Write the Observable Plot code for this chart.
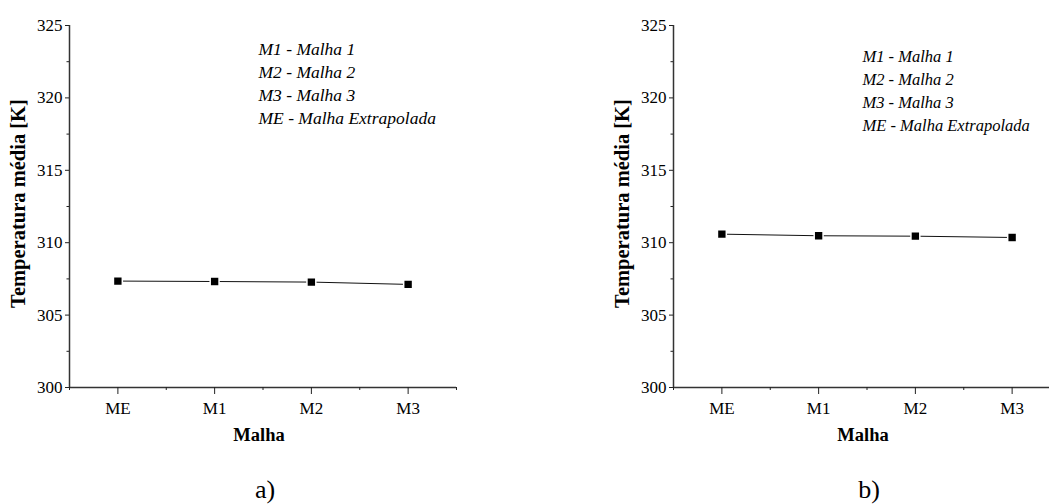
<!DOCTYPE html>
<html>
<head>
<meta charset="utf-8">
<script src="https://cdn.jsdelivr.net/npm/d3@7"></script>
<script src="https://cdn.jsdelivr.net/npm/@observablehq/plot@0.6"></script>
<style>
  html, body { margin: 0; padding: 0; background: #fff; overflow: hidden; }
  #wrap { position: relative; width: 1049px; height: 504px; overflow: hidden; }
  .panel { position: absolute; top: 0; }
</style>
</head>
<body>
<div id="wrap"></div>
<script>
// Mesh labels (x axis) and mean temperature per mesh for each case
const malhas = ["ME", "M1", "M2", "M3"];
const tempA = [307.35, 307.32, 307.28, 307.12];
const tempB = [310.59, 310.48, 310.45, 310.36];

// Axis setup
const yDomain = [300, 325];
const yMajor = [300, 305, 310, 315, 320, 325];
const yMinor = [302.5, 307.5, 312.5, 317.5, 322.5];

const legendLines = [
  "M1 - Malha 1",
  "M2 - Malha 2",
  "M3 - Malha 3",
  "ME - Malha Extrapolada"
];

const yTitle = "Temperatura média [K]";
const xTitle = "Malha";
const panelLabels = ["a)", "b)"];

const serif = "'Liberation Serif', 'Times New Roman', serif";

function panel(values, tag, legendFont, legendDy) {
  const rows = malhas.map((m, i) => ({i, m, t: values[i]}));
  const idx = malhas.map((_, i) => i);
  const xMinor = [...idx.map(i => i - 0.5), malhas.length - 0.5];
  const xDomain = [-0.5, malhas.length - 0.5];
  return Plot.plot({
    width: 525,
    height: 504,
    marginLeft: 69,
    marginRight: 69,
    marginTop: 25,
    marginBottom: 117,
    style: {fontFamily: serif, color: "#000", background: "#fff"},
    x: {type: "linear", domain: xDomain},
    y: {domain: yDomain},
    marks: [
      // axis lines
      Plot.ruleY([yDomain[0]], {stroke: "#333", strokeWidth: 1.5}),
      Plot.ruleX([xDomain[0]], {stroke: "#333", strokeWidth: 1.5}),
      // y axis: majors with labels, minors without
      Plot.axisY(yMajor, {
        tickSize: 4, tickPadding: 3, fontSize: 17, label: null,
        stroke: "#222", tickFormat: d => String(d)
      }),
      Plot.axisY(yMinor, {tickSize: 2.5, text: null, label: null, stroke: "#222"}),
      // x axis: category ticks with labels, minor ticks at boundaries
      Plot.axisX(idx, {
        tickSize: 7, tickPadding: 7, fontSize: 17, label: null,
        stroke: "#222", tickFormat: i => malhas[i]
      }),
      Plot.axisX(xMinor, {tickSize: 3, text: null, label: null, stroke: "#222"}),
      // axis titles
      Plot.text([yTitle], {
        frameAnchor: "left", rotate: -90, dx: -51, dy: -3,
        fontSize: 20.5, fontWeight: "bold", lineAnchor: "middle", textAnchor: "middle"
      }),
      Plot.text([xTitle], {
        frameAnchor: "bottom", dy: 53, fontSize: 18.5, fontWeight: "bold",
        lineAnchor: "bottom", dx: -4
      }),
      // panel label
      Plot.text([tag], {
        frameAnchor: "bottom", dy: 110, fontSize: 26, lineAnchor: "bottom", dx: 2
      }),
      // legend text block
      Plot.text([legendLines.join("\n")], {
        frameAnchor: "top-left", textAnchor: "start", lineAnchor: "top",
        dx: 189, dy: legendDy, fontSize: legendFont, fontStyle: "italic",
        lineHeight: 23 / legendFont
      }),
      // data
      Plot.line(rows, {x: "i", y: "t", stroke: "#111", strokeWidth: 1}),
      Plot.dot(rows, {
        x: "i", y: "t", symbol: "square", r: 5, fill: "#000",
        stroke: "#fff", strokeWidth: 1.5
      })
    ]
  });
}

const wrap = document.getElementById("wrap");
const a = panel(tempA, panelLabels[0], 17.5, 13);
a.classList.add("panel");
a.style.left = "0px";
wrap.appendChild(a);

const b = panel(tempB, panelLabels[1], 16.5, 20);
b.classList.add("panel");
b.style.left = "604px";
wrap.appendChild(b);
</script>
</body>
</html>
